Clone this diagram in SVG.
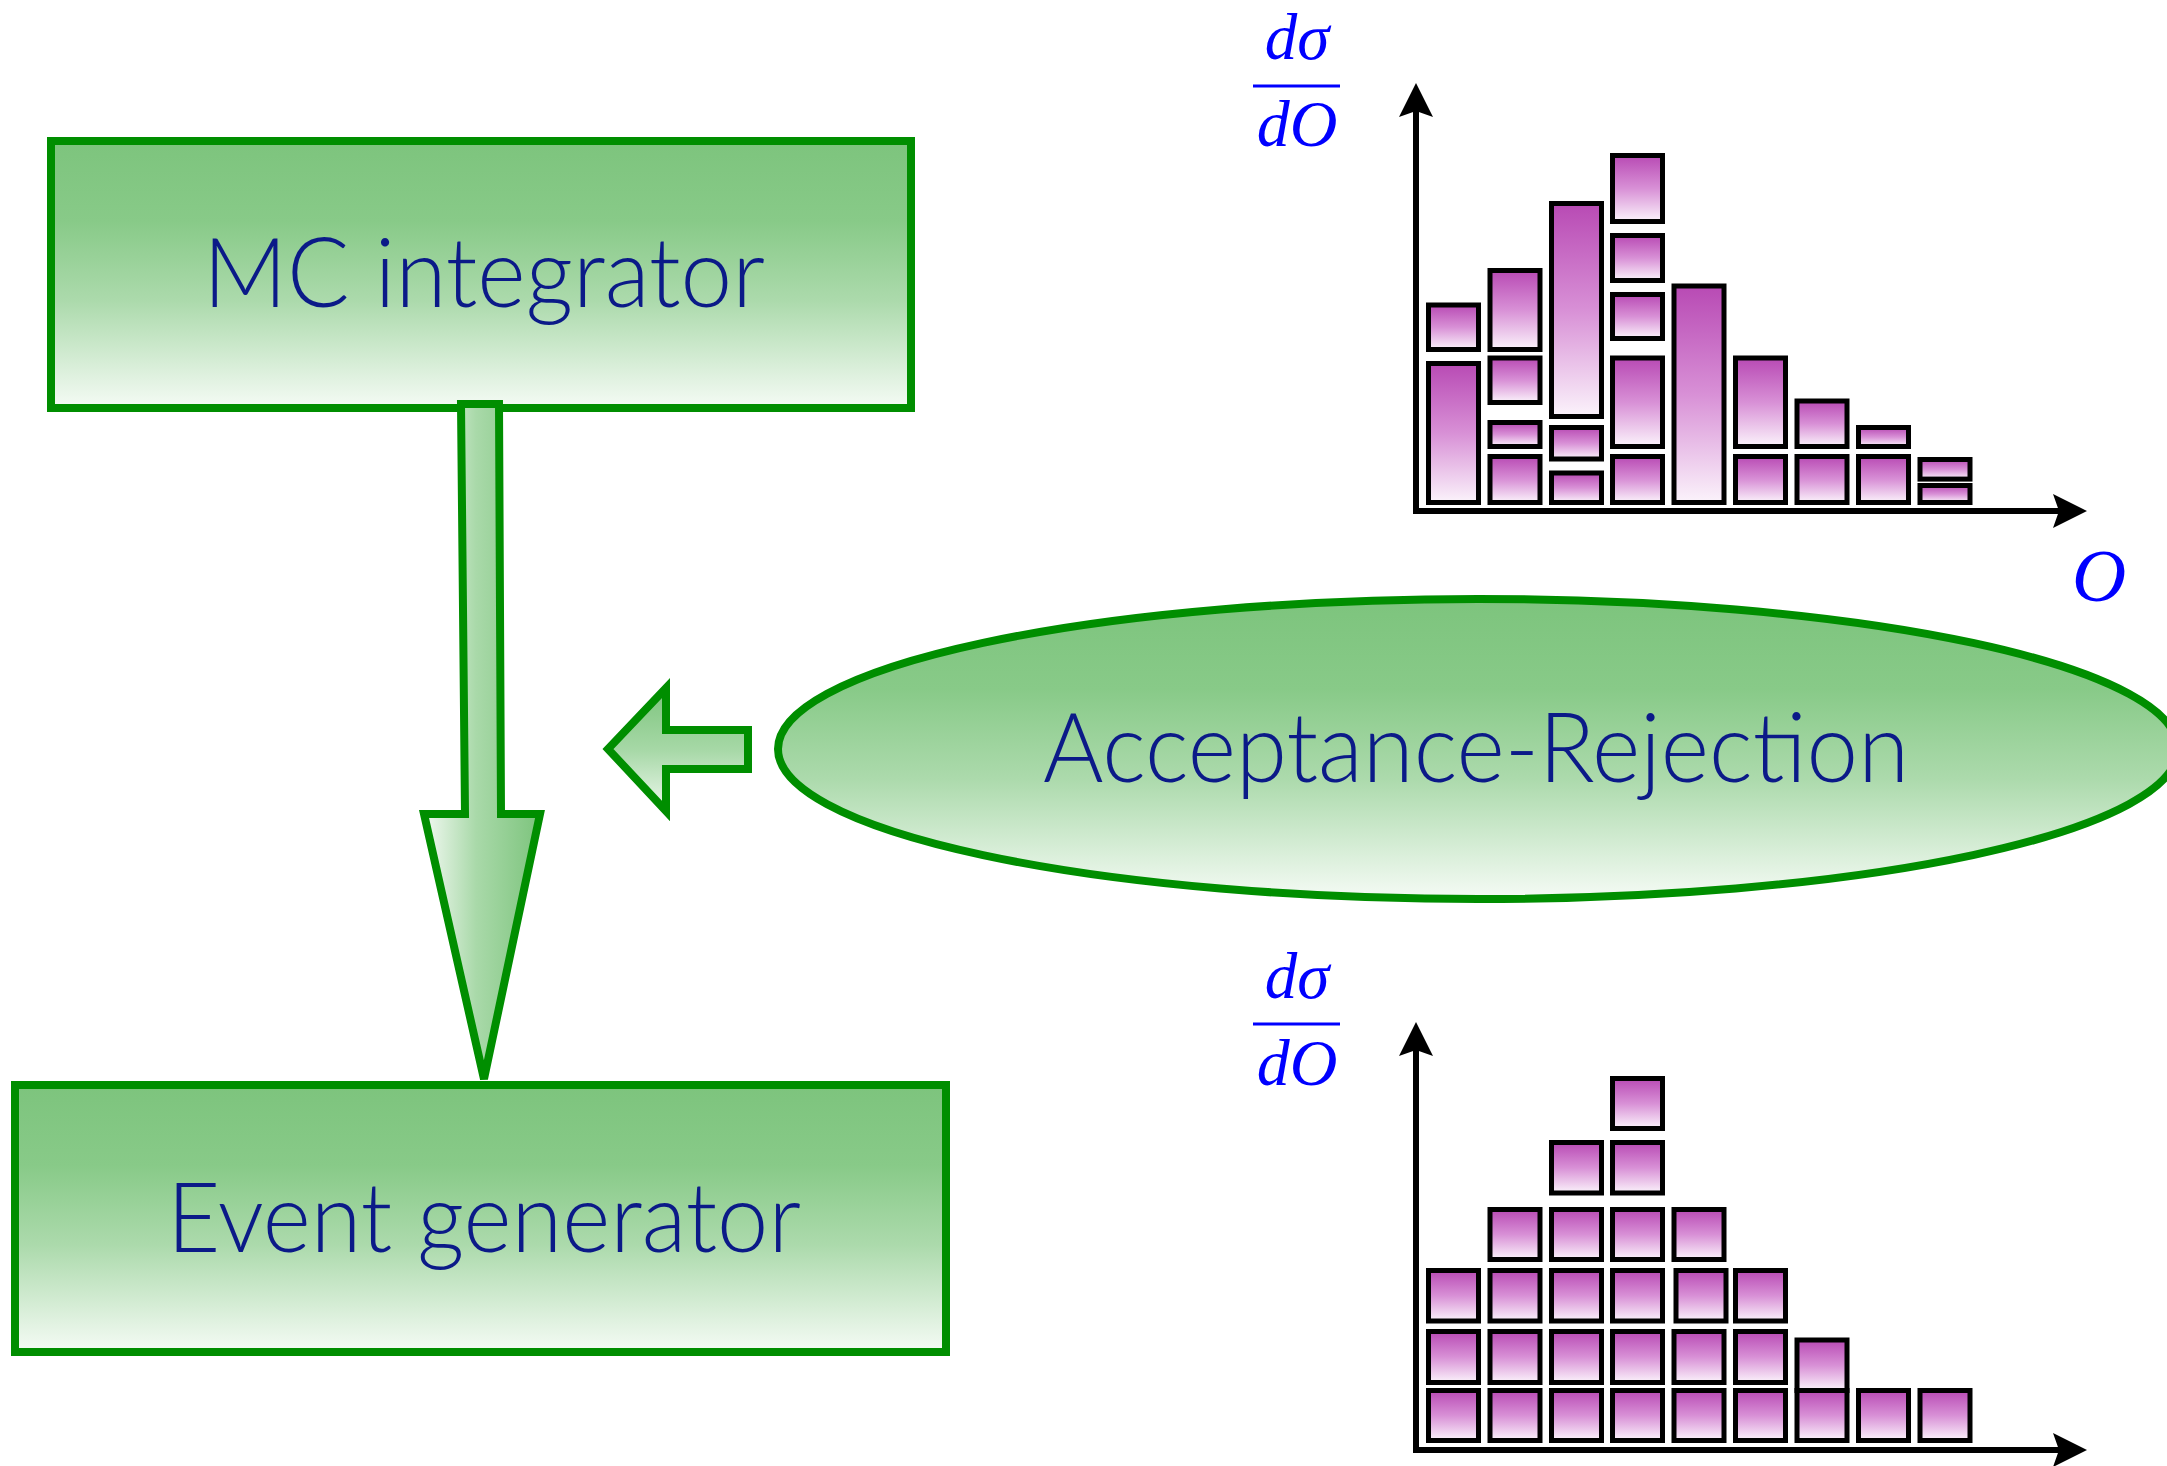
<svg xmlns="http://www.w3.org/2000/svg" width="2167" height="1466" viewBox="0 0 2167 1466">
<defs>
  <linearGradient id="gBox" x1="0" y1="0" x2="0" y2="1">
    <stop offset="0" stop-color="#7dc47d"/>
    <stop offset="0.3" stop-color="#88ca88"/>
    <stop offset="0.6" stop-color="#acdaac"/>
    <stop offset="1" stop-color="#f5fbf5"/>
  </linearGradient>
  <linearGradient id="gArrowH" x1="0" y1="0" x2="1" y2="0">
    <stop offset="0" stop-color="#f2f9f2"/>
    <stop offset="0.45" stop-color="#a9d9a9"/>
    <stop offset="1" stop-color="#7dc47d"/>
  </linearGradient>
  <linearGradient id="gArrowV" x1="0" y1="0" x2="0" y2="1">
    <stop offset="0" stop-color="#7dc47d"/>
    <stop offset="0.5" stop-color="#a6d8a6"/>
    <stop offset="1" stop-color="#eef8ee"/>
  </linearGradient>
  <linearGradient id="gBar" x1="0" y1="0" x2="0" y2="1">
    <stop offset="0" stop-color="#b84ab4"/>
    <stop offset="0.5" stop-color="#d890d6"/>
    <stop offset="1" stop-color="#fbf3fb"/>
  </linearGradient>
  <marker id="axisHead" markerUnits="userSpaceOnUse" viewBox="0 0 34 34" markerWidth="34" markerHeight="34" refX="6" refY="17" orient="auto">
    <path d="M0,0 L34,17 L0,34 L6,17 Z" fill="#000"/>
  </marker>
</defs>
<style>
  .box { fill: url(#gBox); stroke: #008e00; stroke-width: 8; }
  .lbl { font-family: Lato, "Liberation Sans", sans-serif; font-weight: 300; font-size: 97px; fill: #0b1a88; text-anchor: middle; }
  .bar { fill: url(#gBar); stroke: #000; stroke-width: 5; }
  .axis { stroke: #000; stroke-width: 6; fill: none; marker-end: url(#axisHead); }
  .math { font-family: "Liberation Serif", "DejaVu Serif", serif; font-style: italic; fill: #0000ff; text-anchor: middle; }
  .fracbar { stroke: #0000ff; stroke-width: 3; }
  .blockarrow { stroke: #008e00; stroke-width: 8; stroke-linejoin: miter; }
</style>
<rect x="0" y="0" width="2167" height="1466" fill="#ffffff"/>

<g id="mc-integrator">
  <rect class="box" x="51" y="141" width="860" height="267"/>
  <text class="lbl" x="484" y="307" textLength="562" lengthAdjust="spacingAndGlyphs">MC integrator</text>
</g>

<g id="event-generator">
  <rect class="box" x="15" y="1085" width="931" height="267"/>
  <text class="lbl" x="484" y="1252" textLength="634" lengthAdjust="spacingAndGlyphs">Event generator</text>
</g>

<g id="acceptance-rejection">
  <ellipse class="box" cx="1478" cy="749" rx="700" ry="150"/>
  <text class="lbl" x="1476" y="782" textLength="866" lengthAdjust="spacingAndGlyphs">Acceptance-Rejection</text>
</g>

<g id="connectors">
  <polygon class="blockarrow" fill="url(#gArrowH)" points="461,404 499,404 501,814 540,814 484,1079 424,814 465,814"/>
  <polygon class="blockarrow" fill="url(#gArrowV)" points="608,749 666,688 666,730 748,730 748,769 666,769 666,811"/>
</g>

<g id="histogram-before">
  <line class="axis" x1="1416" y1="514" x2="1416" y2="111"/>
  <line class="axis" x1="1413" y1="511" x2="2059" y2="511"/>
  <!-- col 0 -->
  <rect class="bar" x="1428.5" y="305" width="50" height="44.5"/>
  <rect class="bar" x="1428.5" y="363.5" width="50" height="139"/>
  <!-- col 1 -->
  <rect class="bar" x="1490" y="270.5" width="50" height="79"/>
  <rect class="bar" x="1490" y="358" width="50" height="44.5"/>
  <rect class="bar" x="1490" y="422.5" width="50" height="24"/>
  <rect class="bar" x="1490" y="456.5" width="50" height="46"/>
  <!-- col 2 -->
  <rect class="bar" x="1551.5" y="203.5" width="50" height="213"/>
  <rect class="bar" x="1551.5" y="427.5" width="50" height="31.5"/>
  <rect class="bar" x="1551.5" y="473" width="50" height="29.5"/>
  <!-- col 3 -->
  <rect class="bar" x="1612.5" y="155.5" width="50" height="66"/>
  <rect class="bar" x="1612.5" y="235.5" width="50" height="45"/>
  <rect class="bar" x="1612.5" y="294.5" width="50" height="44"/>
  <rect class="bar" x="1612.5" y="358" width="50" height="88.5"/>
  <rect class="bar" x="1612.5" y="456.5" width="50" height="46"/>
  <!-- col 4 -->
  <rect class="bar" x="1674" y="286" width="50" height="216.5"/>
  <!-- col 5 -->
  <rect class="bar" x="1735.5" y="358" width="50" height="88.5"/>
  <rect class="bar" x="1735.5" y="456.5" width="50" height="46"/>
  <!-- col 6 -->
  <rect class="bar" x="1797" y="401" width="50" height="45.5"/>
  <rect class="bar" x="1797" y="456.5" width="50" height="46"/>
  <!-- col 7 -->
  <rect class="bar" x="1858.5" y="427.5" width="50" height="19"/>
  <rect class="bar" x="1858.5" y="456.5" width="50" height="46"/>
  <!-- col 8 -->
  <rect class="bar" x="1920" y="459.5" width="50" height="19.6"/>
  <rect class="bar" x="1920" y="485.5" width="50" height="17"/>
  <!-- labels -->
  <text class="math" x="1297" y="59" font-size="65">dσ</text>
  <line class="fracbar" x1="1253" y1="86" x2="1340" y2="86"/>
  <text class="math" x="1297" y="146" font-size="66">dO</text>
  <text class="math" x="2099" y="601" font-size="75">O</text>
</g>

<g id="histogram-after">
  <line class="axis" x1="1416" y1="1453" x2="1416" y2="1050"/>
  <line class="axis" x1="1413" y1="1450" x2="2059" y2="1450"/>
  <!-- row 1 -->
  <rect class="bar" x="1428.5" y="1390.5" width="50" height="50"/>
  <rect class="bar" x="1490" y="1390.5" width="50" height="50"/>
  <rect class="bar" x="1551.5" y="1390.5" width="50" height="50"/>
  <rect class="bar" x="1612.5" y="1390.5" width="50" height="50"/>
  <rect class="bar" x="1674" y="1390.5" width="50" height="50"/>
  <rect class="bar" x="1735.5" y="1390.5" width="50" height="50"/>
  <rect class="bar" x="1797" y="1390.5" width="50" height="50"/>
  <rect class="bar" x="1858.5" y="1390.5" width="50" height="50"/>
  <rect class="bar" x="1920" y="1390.5" width="50" height="50"/>
  <!-- row 2 -->
  <rect class="bar" x="1428.5" y="1331.5" width="50" height="51"/>
  <rect class="bar" x="1490" y="1331.5" width="50" height="51"/>
  <rect class="bar" x="1551.5" y="1331.5" width="50" height="51"/>
  <rect class="bar" x="1612.5" y="1331.5" width="50" height="51"/>
  <rect class="bar" x="1674" y="1331.5" width="50" height="51"/>
  <rect class="bar" x="1735.5" y="1331.5" width="50" height="51"/>
  <rect class="bar" x="1797" y="1340" width="50" height="50.5"/>
  <!-- row 3 -->
  <rect class="bar" x="1428.5" y="1270.5" width="50" height="50.5"/>
  <rect class="bar" x="1490" y="1270.5" width="50" height="50.5"/>
  <rect class="bar" x="1551.5" y="1270.5" width="50" height="50.5"/>
  <rect class="bar" x="1612.5" y="1270.5" width="50" height="50.5"/>
  <rect class="bar" x="1676" y="1270.5" width="50" height="50.5"/>
  <rect class="bar" x="1735.5" y="1270.5" width="50" height="50.5"/>
  <!-- row 4 -->
  <rect class="bar" x="1490" y="1209.5" width="50" height="50"/>
  <rect class="bar" x="1551.5" y="1209.5" width="50" height="50"/>
  <rect class="bar" x="1612.5" y="1209.5" width="50" height="50"/>
  <rect class="bar" x="1674" y="1209.5" width="50" height="50"/>
  <!-- row 5 -->
  <rect class="bar" x="1551.5" y="1142.5" width="50" height="50.5"/>
  <rect class="bar" x="1612.5" y="1142.5" width="50" height="50.5"/>
  <!-- row 6 -->
  <rect class="bar" x="1612.5" y="1078.5" width="50" height="50"/>
  <!-- labels -->
  <text class="math" x="1297" y="998" font-size="65">dσ</text>
  <line class="fracbar" x1="1253" y1="1024" x2="1340" y2="1024"/>
  <text class="math" x="1297" y="1085" font-size="66">dO</text>
</g>
</svg>
